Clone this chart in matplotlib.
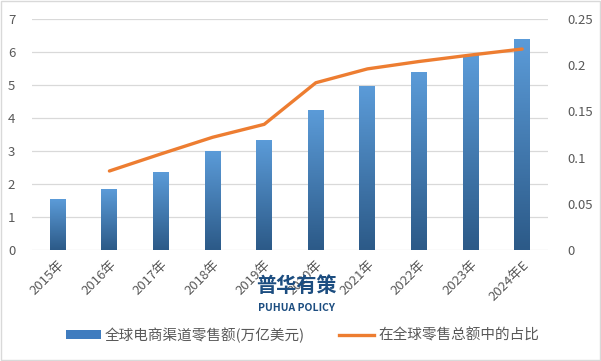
import numpy as np
import matplotlib
matplotlib.use("Agg")
import matplotlib.pyplot as plt
from matplotlib.colors import LinearSegmentedColormap
from matplotlib.patches import Patch
from matplotlib.lines import Line2D

plt.rcParams['font.family'] = ['Noto Sans CJK SC', 'DejaVu Sans']

# -------------------------------------------------------
# Data
# -------------------------------------------------------
years = ["2015年", "2016年", "2017年", "2018年", "2019年",
         "2020年", "2021年", "2022年", "2023年", "2024年E"]
sales = [1.52, 1.82, 2.36, 2.97, 3.33, 4.24, 4.94, 5.39, 5.90, 6.39]
share = [np.nan, 0.0855, 0.104, 0.122, 0.136, 0.181, 0.196, 0.204, 0.211, 0.2175]

bar_label = "全球电商渠道零售额(万亿美元)"
line_label = "在全球零售总额中的占比"

# -------------------------------------------------------
# Figure
# -------------------------------------------------------
fig = plt.figure(figsize=(6.01, 3.61), dpi=100)
ax = fig.add_axes([32 / 601, 1 - 250 / 361, 516 / 601, 231 / 361])
ax2 = ax.twinx()

x = np.arange(len(years))
width = 0.31
bars = ax.bar(x, sales, width=width, color="none", zorder=2)

# gradient fill for each bar
cmap = LinearSegmentedColormap.from_list("blues", ["#2C5A88", "#5B9BD8"])
grad = np.linspace(0, 1, 100).reshape(-1, 1)
for b in bars:
    x0, y0 = b.get_x(), b.get_y()
    w, h = b.get_width(), b.get_height()
    ax.imshow(grad, extent=(x0, x0 + w, y0, y0 + h), origin="lower",
              cmap=cmap, aspect="auto", zorder=2)

ax.set_xlim(-0.5, len(years) - 0.5)
ax.set_ylim(0, 7)
ax.set_yticks(range(0, 8))
ax.grid(axis="y", color="#D9D9D9", linewidth=0.9, zorder=0)
ax.set_axisbelow(True)

ax2.plot(x, share, color="#ED7D31", linewidth=2.4, solid_capstyle="round")
ax2.set_ylim(0, 0.25)
ax2.set_yticks([0, 0.05, 0.1, 0.15, 0.2, 0.25])
ax2.set_yticklabels(["0", "0.05", "0.1", "0.15", "0.2", "0.25"])

ax.set_xticks(x)
ax.set_xticklabels(years, rotation=45, ha="right", rotation_mode="anchor")

for a in (ax, ax2):
    for s in a.spines.values():
        s.set_visible(False)
    a.tick_params(length=0, labelsize=9.5, colors="#595959")
ax.tick_params(axis="y", pad=12)
ax2.tick_params(axis="y", pad=14)
ax.tick_params(axis="x", pad=6)

# watermark
fig.text(296 / 601, 1 - 285 / 361, "普华有策", fontsize=14.5, fontweight="heavy",
         color="#1C4D80", ha="center", va="center")
fig.text(296 / 601, 1 - 308 / 361, "PUHUA POLICY", fontsize=7.5, fontweight="bold",
         color="#1C4D80", ha="center", va="center")

# legend
handles = [Patch(facecolor="#3F7CBF", edgecolor="none"),
           Line2D([0], [0], color="#ED7D31", linewidth=2.4)]
fig.legend(handles, [bar_label, line_label], loc="center",
           bbox_to_anchor=(0.503, 1 - 335 / 361), ncol=2, frameon=False,
           fontsize=10.5, labelcolor="#595959", handlelength=2.4,
           handleheight=0.5, columnspacing=2.3, handletextpad=0.3)

# light border
fig.patches.append(plt.Rectangle((0.002, 0.003), 0.996, 0.994, transform=fig.transFigure,
                                 fill=False, edgecolor="#D9D9D9", linewidth=1))

fig.savefig("out.png", dpi=100)
